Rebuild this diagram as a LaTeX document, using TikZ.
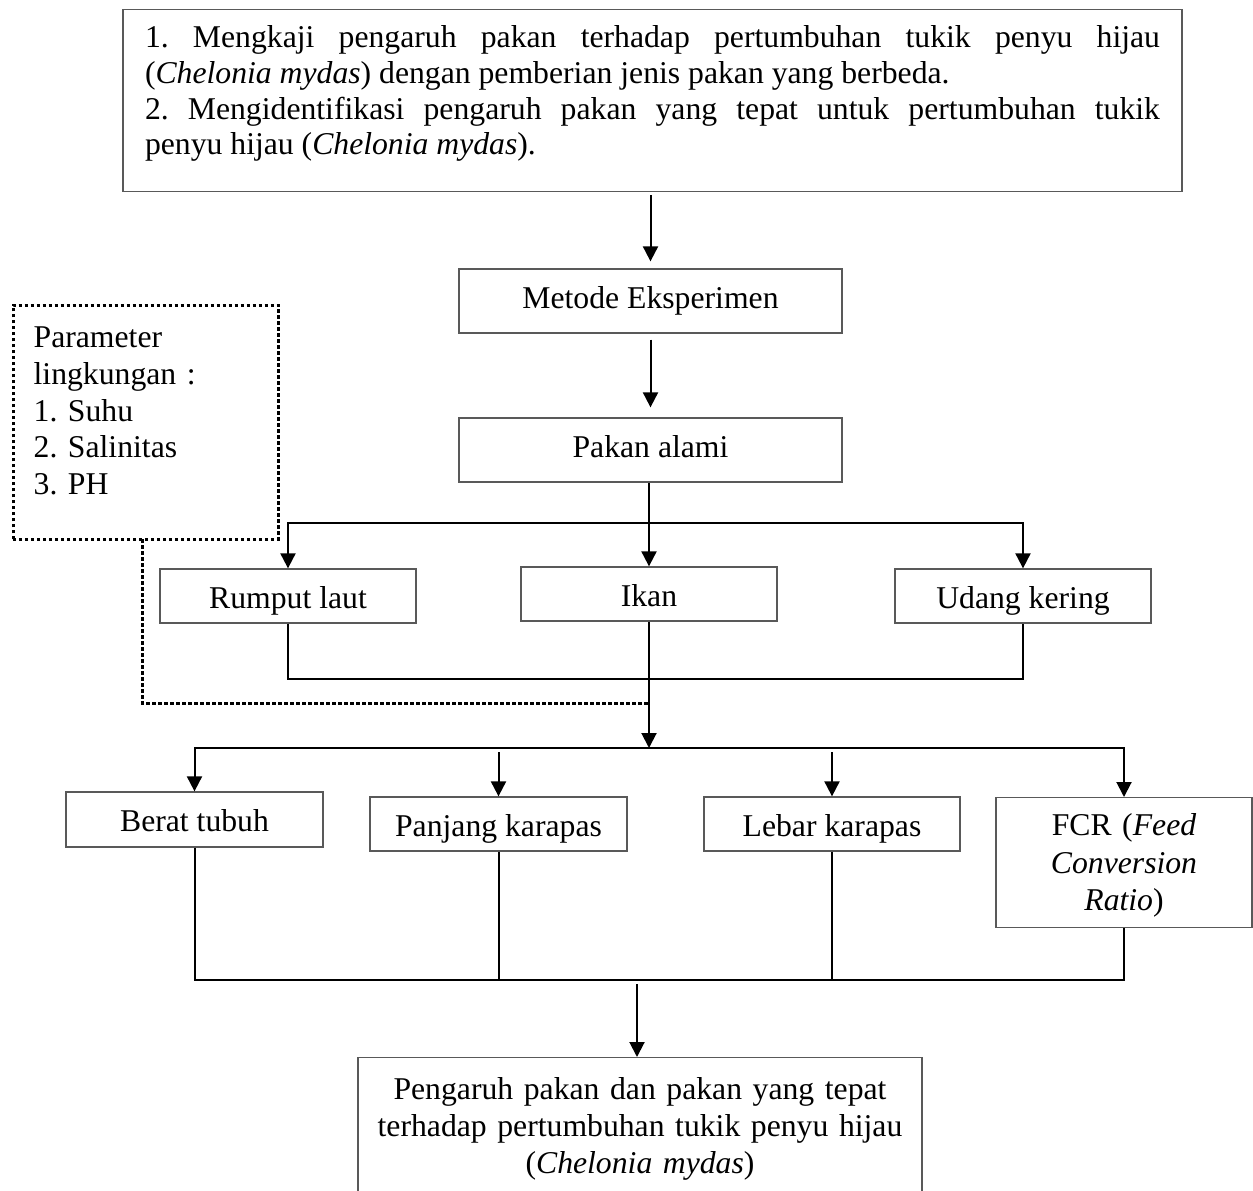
\documentclass[tikz,border=0pt]{standalone}
\usepackage{fontspec}
\setmainfont{Liberation Serif}
\usetikzlibrary{arrows.meta}
\newcommand\fsz[1]{\fontsize{31.7pt}{#1}\selectfont\frenchspacing\tolerance=10000 \hbadness=10000 \hyphenpenalty=10000 }
\begin{document}
\begin{tikzpicture}[x=1pt,y=-1pt,
  box/.style={draw=black!65, line width=1.3pt, inner sep=0pt, align=center, font=\fsz{37pt}},
  lowtext/.style={text height=24pt, text depth=0pt},
  midtext/.style={text height=21.6pt, text depth=6.9pt},
  conn/.style={line width=2pt, black},
  arr/.style={conn, -{Triangle[length=15pt,width=15pt]}},
  dotl/.style={line width=3pt, black, dash pattern=on 3.5pt off 2.5pt}]
\fill[white] (0,0) rectangle (1253,1191);
\useasboundingbox (0,0) rectangle (1253,1191);

% nodes
\node[box, anchor=north, text width=1015pt, align=justify, inner xsep=22pt, inner ysep=16.4pt,
      text height=21.6pt, text depth=127.5pt, font=\fsz{35.7pt}] (goal) at (652.5,9)
  {1. Mengkaji pengaruh pakan terhadap pertumbuhan tukik penyu hijau\linebreak
   (\textit{Chelonia mydas}) dengan pemberian jenis pakan yang berbeda.\\
   2. Mengidentifikasi pengaruh pakan yang tepat untuk pertumbuhan tukik\linebreak
   penyu hijau (\textit{Chelonia mydas}).};

\node[box, midtext, minimum width=383pt, minimum height=64pt] (met) at (650.5,301) {Metode Eksperimen};
\node[box, midtext, minimum width=383pt, minimum height=64pt] (pak) at (650.5,450) {Pakan alami};

\node[box, draw=none, anchor=north west, text width=224pt, align=left, inner xsep=20pt, inner ysep=20.4pt,
      text height=21.6pt, text depth=170.6pt, font=\fsz{36.7pt}] (param) at (13,305)
  {Parameter\\ lingkungan :\\ 1. Suhu\\ 2. Salinitas\\ 3. PH};
\draw[dotl] (param.south west) rectangle (param.north east);

\node[box, lowtext, minimum width=256pt, minimum height=54pt] (rl) at (288,596) {Rumput laut};
\node[box, lowtext, minimum width=256pt, minimum height=54pt] (ik) at (649,594) {Ikan};
\node[box, lowtext, minimum width=256pt, minimum height=54pt] (ud) at (1023,596) {Udang kering};

\node[box, lowtext, minimum width=257pt, minimum height=55pt] (bt) at (194.5,819.5) {Berat tubuh};
\node[box, lowtext, minimum width=257pt, minimum height=54pt] (pk) at (498.5,824) {Panjang karapas};
\node[box, lowtext, minimum width=256pt, minimum height=54pt] (lb) at (832,824) {Lebar karapas};
\node[box, anchor=north, text width=224pt, inner xsep=16pt, inner ysep=16.4pt, text height=21.6pt, text depth=75.6pt,
      font=\fsz{37.5pt}] (fcr) at (1124,797)
  {FCR (\textit{Feed}\\ \textit{Conversion}\\ \textit{Ratio})};

\node[box, anchor=north, text width=544pt, inner xsep=10pt, inner ysep=20.4pt, text height=21.6pt, text depth=76pt] (res) at (640,1057)
  {Pengaruh pakan dan pakan yang tepat\\ terhadap pertumbuhan tukik penyu hijau\\ (\textit{Chelonia mydas})};

% junction points
\coordinate (s1) at (649,523);
\coordinate (j1) at (649,679);
\coordinate (s2) at (649,748);
\coordinate (j2) at (637,980);

% connectors
\draw[arr, shorten <=3pt, shorten >=7pt] (met.north |- goal.south) -- (met.north);
\draw[arr, shorten <=6pt, shorten >=10pt] (met.south) -- (pak.north);
\draw[arr] (pak.south -| ik.north) -- (ik.north);
\draw[arr] (s1) -| (rl.north);
\draw[arr] (s1) -| (ud.north);
\draw[conn] (rl.south) |- (j1) -| (ud.south);
\draw[dotl] ([xshift=129pt]param.south west) |- (ik.south |- 0,703);
\draw[arr] (ik.south) -- (s2);
\draw[arr] (s2) -| (bt.north);
\draw[arr] (s2) -| (fcr.north);
\draw[arr, shorten <=4pt] (s2 -| pk.north) -- (pk.north);
\draw[arr, shorten <=4pt] (s2 -| lb.north) -- (lb.north);
\draw[conn] (bt.south) |- (j2) -| (fcr.south);
\draw[conn] (pk.south) -- (pk.south |- j2);
\draw[conn] (lb.south) -- (lb.south |- j2);
\draw[arr, shorten <=4pt] (j2) -- (j2 |- res.north);
\end{tikzpicture}
\end{document}
